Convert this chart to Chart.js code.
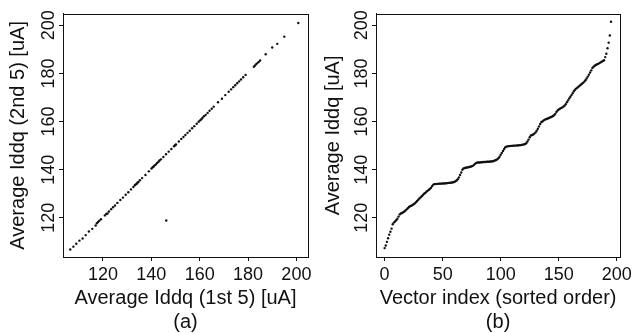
<!DOCTYPE html>
<html lang="en">
<head>
<meta charset="UTF-8">
<title>Iddq averages</title>
<script src="https://cdn.jsdelivr.net/npm/chart.js"></script>
<style>
    body { margin: 0; background: #fff; }
    .panel { position: absolute; top: 0; height: 333px; }
    #panelA { left: 0; width: 318px; }
    #panelB { left: 315px; width: 320px; }
</style>
</head>
<body>
<div class="panel" id="panelA"><canvas id="chartA"></canvas></div>
<div class="panel" id="panelB"><canvas id="chartB"></canvas></div>
<script>
// (a) average of first 5 vs second 5 measurements, per vector
const firstFive = [106.5, 107.8, 109.0, 110.3, 111.6, 112.9, 114.2, 115.6, 117.0, 117.5,
    118.0, 118.5, 119.2, 120.8, 121.4, 121.9, 122.5, 123.4, 124.2, 125.0,
    126.0, 127.2, 128.3, 129.4, 130.5, 131.6, 132.6, 133.2, 133.6, 134.0,
    134.3, 134.7, 135.3, 136.2, 137.6, 139.0, 140.1, 140.6, 141.0, 141.4,
    141.9, 142.4, 143.0, 143.4, 144.0, 145.0, 146.1, 147.2, 148.3, 149.4,
    149.7, 150.0, 150.2, 151.4, 152.4, 153.3, 154.1, 155.0, 155.9, 156.9,
    157.8, 158.8, 159.6, 160.2, 160.7, 161.2, 161.8, 162.5, 163.3, 164.1,
    165.0, 165.8, 167.6, 169.2, 170.6, 172.0, 173.0, 173.9, 174.7, 175.5,
    176.3, 177.1, 178.0, 179.0, 182.4, 182.9, 183.4, 183.9, 184.4, 185.0,
    187.3, 190.0, 192.1, 195.0, 200.8, 146.2];
const secondFive = [106.8, 108.0, 109.2, 110.5, 111.4, 112.8, 114.3, 115.4, 116.8, 117.7,
    118.3, 118.8, 119.4, 121.0, 121.6, 121.8, 122.6, 123.6, 124.4, 125.1,
    126.2, 127.4, 128.4, 129.6, 130.6, 131.8, 132.8, 133.5, 133.9, 134.2,
    134.6, 134.9, 135.6, 136.5, 137.8, 139.3, 140.5, 141.0, 141.3, 141.8,
    142.2, 142.8, 143.3, 143.8, 144.3, 145.3, 146.4, 147.5, 148.6, 149.7,
    150.0, 150.3, 150.5, 151.7, 152.8, 153.6, 154.4, 155.3, 156.2, 157.2,
    158.1, 159.1, 159.9, 160.5, 161.0, 161.6, 162.2, 162.8, 163.6, 164.5,
    165.3, 166.2, 168.0, 169.5, 171.0, 172.4, 173.4, 174.3, 175.1, 175.9,
    176.7, 177.5, 178.4, 179.4, 182.8, 183.3, 183.9, 184.3, 184.8, 185.4,
    188.0, 190.8, 192.3, 195.3, 201.0, 118.9];

// (b) average Iddq, sorted
const sortedIddq = [107.4, 108.5, 110, 111.5, 113, 114.2, 115.5, 117.3,
    118, 118.5, 119, 119.6, 120.5, 121.4,
    121.8, 122, 122.3, 122.6, 123, 123.5, 124, 124.5, 124.8,
    125, 125.3, 125.6, 126, 126.5, 127, 127.5, 128,
    128.5, 129, 129.5, 130, 130.3, 130.8, 131.2, 131.6, 132, 132.5, 133.2, 133.8,
    134, 134, 134.1, 134.1, 134.2, 134.2, 134.2, 134.3, 134.3, 134.3, 134.4, 134.4, 134.5, 134.5, 134.6, 134.7, 134.8, 134.9,
    135.2, 135.5, 136, 136.8, 137.8, 138.8,
    140, 140.5, 140.7, 140.8, 140.9, 141, 141.1, 141.2, 141.4,
    141.6, 142, 142.5, 142.8, 143,
    143, 143, 143.1, 143.1, 143.2, 143.2, 143.2, 143.3, 143.3, 143.3, 143.4, 143.4, 143.5, 143.6, 143.8, 144,
    144.3, 144.8, 145.4, 146.2, 147, 147.8, 148.6, 149.3,
    149.6, 149.7, 149.8, 149.8, 149.9, 149.9, 150, 150, 150, 150.1, 150.1, 150.2, 150.2, 150.3, 150.4, 150.5, 150.7, 151,
    151.7, 152.5, 153.5, 154.2, 154.4, 154.6, 155, 155.5, 156.2, 157, 158, 159, 159.8,
    160, 160.5, 160.8, 161, 161.2, 161.4, 161.6, 161.8, 162, 162.3, 162.6, 163.2, 164,
    164.6, 165, 165.3, 165.6, 165.9, 166.2, 166.6, 167.2, 168, 168.8,
    169.6, 170.3, 171, 171.8, 172.6, 173.2, 173.7, 174.1, 174.5, 174.9, 175.3, 175.7, 176.1, 176.6,
    177.2, 177.9, 178.7, 179.5, 180.4, 181.3, 182.3,
    182.8, 183.2, 183.5, 183.8, 184, 184.3, 184.6, 184.9, 185.2, 185.5, 186.8,
    188.2, 190.5, 192.8, 195.8, 201.5];

const iddqTicks = [120, 140, 160, 180, 200];
const indexTicks = [0, 50, 100, 150, 200];

const FONT = "'Liberation Sans', Arial, sans-serif";
const INK = '#111';

// draws the box and the rotated y tick labels (R style)
const boxPlugin = {
    id: 'box',
    afterDraw(chart) {
        const ctx = chart.ctx;
        const a = chart.chartArea;
        ctx.save();
        ctx.strokeStyle = INK;
        ctx.lineWidth = 1;
        ctx.strokeRect(Math.round(a.left) + 0.5, Math.round(a.top) + 0.5,
            Math.round(a.right - a.left), Math.round(a.bottom - a.top));

        const y = chart.scales.y;
        ctx.fillStyle = INK;
        ctx.font = '18px ' + FONT;
        ctx.textAlign = 'center';
        ctx.textBaseline = 'alphabetic';
        y.ticks.forEach(t => {
            ctx.save();
            ctx.translate(a.left - 9.5, y.getPixelForValue(t.value));
            ctx.rotate(-Math.PI / 2);
            ctx.fillText(String(t.value), 0, 0);
            ctx.restore();
        });
        ctx.restore();
    }
};

function makeOptions(xMin, xMax, xTicks, xTitle, yTitle, padRight) {
    return {
        animation: false,
        responsive: true,
        maintainAspectRatio: false,
        events: [],
        layout: { padding: { left: 0, right: padRight, top: 12, bottom: 0 } },
        plugins: { legend: { display: false }, tooltip: { enabled: false } },
        scales: {
            x: {
                type: 'linear',
                min: xMin,
                max: xMax,
                afterBuildTicks: s => { s.ticks = xTicks.map(v => ({ value: v })); },
                afterFit: s => { s.height = 76; },
                grid: { drawOnChartArea: false, drawTicks: true, tickLength: 4, color: INK },
                border: { display: true, color: INK },
                ticks: {
                    color: INK,
                    padding: 3,
                    maxRotation: 0,
                    autoSkip: false,
                    font: { family: FONT, size: 18 }
                },
                title: {
                    display: true,
                    text: xTitle,
                    color: INK,
                    padding: { top: 0, bottom: -1 },
                    font: { family: FONT, size: 20, lineHeight: 1.2 }
                }
            },
            y: {
                type: 'linear',
                min: 103.7,
                max: 204.8,
                afterBuildTicks: s => { s.ticks = iddqTicks.map(v => ({ value: v })); },
                afterFit: s => { s.width = 63 - (padRight > 11 ? 2 : 0); },
                grid: { drawOnChartArea: false, drawTicks: true, tickLength: 4, color: INK },
                border: { display: true, color: INK },
                ticks: { color: 'rgba(0,0,0,0)', font: { family: FONT, size: 18 } },
                title: {
                    display: true,
                    text: yTitle,
                    color: INK,
                    padding: { top: 6, bottom: 0 },
                    font: { family: FONT, size: 20, lineHeight: 1.2 }
                }
            }
        }
    };
}

const pointsA = firstFive.map((v, i) => ({ x: v, y: secondFive[i] }));
new Chart(document.getElementById('chartA'), {
    type: 'scatter',
    data: {
        datasets: [{
            data: pointsA,
            pointRadius: 1.2,
            pointBorderWidth: 0,
            pointBackgroundColor: INK
        }]
    },
    options: makeOptions(103.5, 204.8, iddqTicks,
        ['Average Iddq (1st 5) [uA]', '(a)'], 'Average Iddq (2nd 5) [uA]', 10),
    plugins: [boxPlugin]
});

const pointsB = sortedIddq.map((v, i) => ({ x: i, y: v }));
new Chart(document.getElementById('chartB'), {
    type: 'scatter',
    data: {
        datasets: [{
            data: pointsB,
            pointRadius: 1.2,
            pointBorderWidth: 0,
            pointBackgroundColor: INK
        }]
    },
    options: makeOptions(-7.4, 202.9, indexTicks,
        ['Vector index (sorted order)', '(b)'], 'Average Iddq [uA]', 13),
    plugins: [boxPlugin]
});
</script>
</body>
</html>
